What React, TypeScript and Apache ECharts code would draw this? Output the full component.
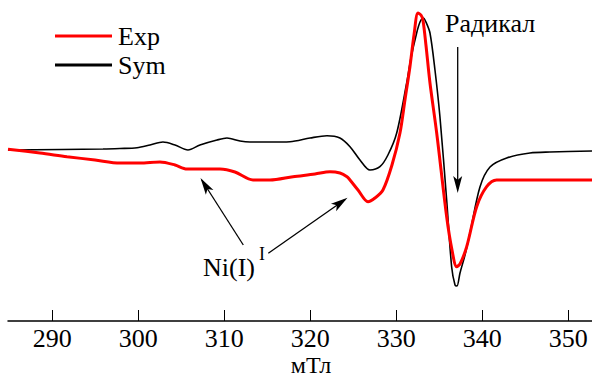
import React, { useEffect, useRef } from "react";
import * as echarts from "echarts";

// Magnetic field, mT
const tickValues = [290, 300, 310, 320, 330, 340, 350];

const symField = [284.85, 295.9, 297.87, 299.85, 301.36, 302.87, 304.27, 305.78, 307.17, 309.15, 310.31, 311.83, 312.99, 315.31, 317.64, 319.97, 321.94, 323.45, 324.62, 325.78, 326.94, 328.1, 329.03, 330.05, 331.21, 331.71, 332.37, 332.76, 333.14, 333.45, 333.92, 334.5, 335.08, 335.86, 336.44, 336.83, 337.06, 337.41, 337.99, 338.57, 339.73, 340.9, 342.84, 345.55, 347.87, 352.76];
const symSignal = [0, 1, 1.5, 2.3, 5, 8, 5, 0, 5, 10, 12, 9, 8, 8, 8.3, 12, 14.3, 12, 3.3, -10, -20, -16.7, -5, 17, 67, 92, 117, 128, 132, 128, 117, 80, 33, -50, -117, -135, -136, -123, -105, -83, -37, -17, -8, -3, -2, -1];

const expField = [284.85, 288.57, 291.71, 294.97, 297.87, 300.2, 302.52, 304.27, 305.66, 309.5, 311.24, 313.34, 315.31, 317.99, 320.55, 322.29, 323.45, 324.27, 324.62, 325.55, 326.71, 327.52, 328.45, 329.5, 330.43, 331.01, 331.59, 332.06, 332.52, 332.87, 333.1, 333.45, 333.92, 334.7, 335.86, 336.48, 337.02, 337.41, 338.19, 339.35, 340.51, 341.67, 352.76];
const expSignal = [0.7, -3, -6.7, -10, -13, -13, -12, -15, -19, -19, -22, -30, -30, -26.7, -24, -21.7, -23, -26.7, -30, -40, -51.7, -48, -40, -15, 17, 50, 83.3, 115, 137, 135, 130, 105, 67, 17, -66.7, -100, -116.7, -114, -96.7, -56.7, -36.7, -30, -30];

const FONT = "Liberation Serif";

function arrowHead(tipX: number, tipY: number, fromX: number, fromY: number, len = 17, half = 4.5, notch = 4) {
  const dx = tipX - fromX;
  const dy = tipY - fromY;
  const d = Math.sqrt(dx * dx + dy * dy);
  const ux = dx / d;
  const uy = dy / d;
  const px = -uy;
  const py = ux;
  const bx = tipX - ux * len;
  const by = tipY - uy * len;
  const nx = tipX - ux * (len - notch);
  const ny = tipY - uy * (len - notch);
  return {
    type: "polygon",
    shape: {
      points: [
        [tipX, tipY],
        [bx + px * half, by + py * half],
        [nx, ny],
        [bx - px * half, by - py * half],
      ],
    },
    style: { fill: "#000" },
    silent: true,
  };
}

function arrow(fromX: number, fromY: number, tipX: number, tipY: number) {
  return [
    {
      type: "line",
      shape: { x1: fromX, y1: fromY, x2: tipX - (tipX - fromX) * 0.03, y2: tipY - (tipY - fromY) * 0.03 },
      style: { stroke: "#000", lineWidth: 1.3 },
      silent: true,
    },
    arrowHead(tipX, tipY, fromX, fromY),
  ];
}

function label(text: string, x: number, y: number, size: number, align: string, lineHeight?: number) {
  return {
    type: "text",
    x,
    y,
    style: {
      text,
      fontFamily: FONT,
      fontSize: size,
      lineHeight: lineHeight || size,
      fill: "#000",
      align,
      verticalAlign: "middle",
      textAlign: align,
      textVerticalAlign: "middle",
    },
    silent: true,
  };
}

export default function App() {
  const ref = useRef<HTMLDivElement>(null);

  useEffect(() => {
    if (!ref.current) return;
    const chart = echarts.init(ref.current, null, { renderer: "svg" });
    const symData = symField.map((x, i) => [x, symSignal[i]]);
    const expData = expField.map((x, i) => [x, expSignal[i]]);

    chart.setOption({
      animation: false,
      backgroundColor: "#fff",
      textStyle: { fontFamily: FONT },
      grid: { left: 8, right: 0, top: 0, bottom: 56, containLabel: false },
      legend: {
        orient: "vertical",
        left: 50,
        top: 18,
        itemWidth: 57,
        itemHeight: 3,
        itemGap: 3,
        icon: "rect",
        textStyle: { fontFamily: FONT, fontSize: 26, color: "#000", padding: [0, 0, 0, 1] },
        data: ["Exp", "Sym"],
      },
      xAxis: {
        type: "value",
        min: 284.85,
        max: 352.76,
        axisLine: { show: true, onZero: false, lineStyle: { color: "#000", width: 1.5 } },
        axisTick: { show: true, inside: true, length: 11, customValues: tickValues, lineStyle: { color: "#000", width: 1 } },
        axisLabel: { show: true, customValues: tickValues, margin: 4, fontFamily: FONT, fontSize: 26, lineHeight: 26, color: "#000" },
        splitLine: { show: false },
      },
      yAxis: {
        type: "value",
        min: -171,
        max: 150,
        show: false,
      },
      series: [
        {
          name: "Sym",
          type: "line",
          data: symData,
          showSymbol: false,
          smooth: 0.3,
          color: "#000",
          lineStyle: { color: "#000", width: 1.6 },
          z: 2,
        },
        {
          name: "Exp",
          type: "line",
          data: expData,
          showSymbol: false,
          smooth: 0.3,
          color: "#ff0000",
          lineStyle: { color: "#ff0000", width: 3 },
          z: 3,
        },
      ],
      graphic: [
        label("мТл", 311, 365, 24, "center", 18),
        label("Радикал", 445, 23.7, 26, "left"),
        label("Ni(I)", 203, 267, 26, "left"),
        label("I", 259, 254, 18, "left"),
        ...arrow(457.7, 47, 457.7, 193),
        ...arrow(243.3, 245, 200.5, 178),
        ...arrow(268.3, 253.3, 347.5, 197.8),
      ],
    });

    return () => chart.dispose();
  }, []);

  return (
    <div
      ref={ref}
      style={{ position: "absolute", left: 0, top: 0, width: 592, height: 377 }}
    />
  );
}
